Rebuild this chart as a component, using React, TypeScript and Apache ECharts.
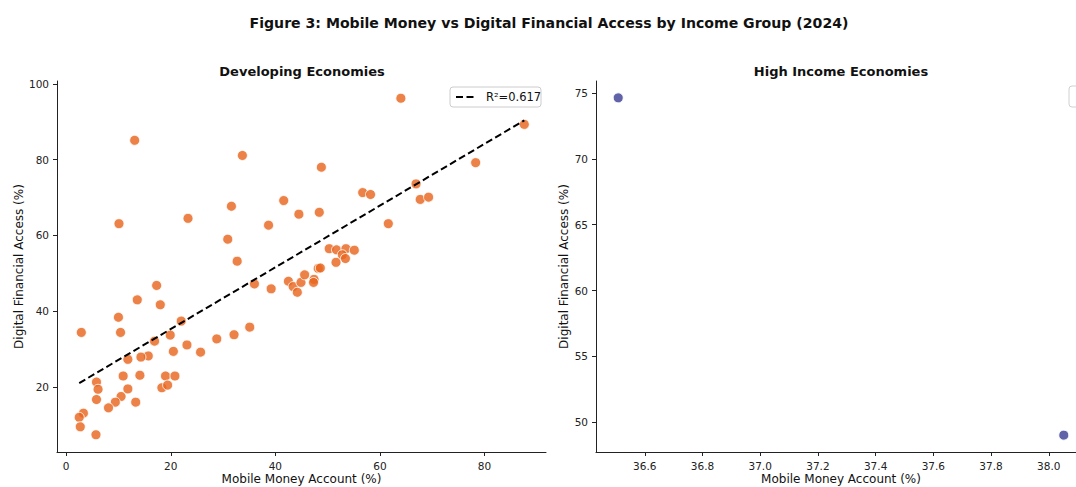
import React, { useEffect, useRef } from "react";
import * as echarts from "echarts";

// ---- Data ----
const devMobile = [
  13.1, 33.7, 10.1, 23.3, 31.6, 41.6, 38.7, 44.5, 30.9, 32.7,
  17.3, 13.6, 18.0, 10.0, 2.9, 10.4, 22.0, 19.9, 16.9, 28.8,
  32.1, 35.1, 36.0, 39.2, 23.1, 20.5, 25.7, 15.7, 14.3, 11.8,
  10.9, 14.1, 19.0, 20.8, 5.8, 6.1, 18.3, 19.4, 11.8, 5.8,
  10.5, 9.4, 13.3, 8.1, 3.3, 2.5, 2.7, 5.7, 42.5, 43.4,
  44.2, 44.9, 45.6, 64.0, 87.6, 78.3, 48.8, 56.7, 58.2, 66.9,
  67.7, 69.3, 48.4, 61.6, 50.3, 51.7, 53.5, 55.1, 52.8, 53.4,
  51.6, 48.2, 48.6, 47.4, 47.3,
];
const devDigital = [
  85.1, 81.1, 63.1, 64.5, 67.7, 69.2, 62.7, 65.6, 59.0, 53.2,
  46.8, 43.0, 41.7, 38.4, 34.4, 34.4, 37.4, 33.7, 32.1, 32.7,
  33.8, 35.8, 47.2, 45.9, 31.1, 29.4, 29.2, 28.2, 27.9, 27.3,
  22.9, 23.1, 22.9, 22.9, 21.3, 19.4, 19.8, 20.5, 19.5, 16.7,
  17.5, 16.0, 16.0, 14.5, 13.1, 12.0, 9.5, 7.4, 47.9, 46.5,
  45.0, 47.6, 49.6, 96.2, 89.3, 79.2, 78.0, 71.3, 70.8, 73.6,
  69.5, 70.1, 66.1, 63.1, 56.5, 56.2, 56.5, 56.1, 54.9, 53.9,
  52.9, 51.3, 51.4, 48.4, 47.6,
];
const hiMobile = [36.508, 38.052];
const hiDigital = [74.62, 49.03];

// regression fit
const trendX = [2.5, 87.6];
const trendSlope = 0.8145;
const trendIntercept = 19.0;
const trendLabel = "R²=0.617";

const leftXTicks = [0, 20, 40, 60, 80];
const leftYTicks = [20, 40, 60, 80, 100];
const rightXTicks = [36.6, 36.8, 37.0, 37.2, 37.4, 37.6, 37.8, 38.0];
const rightYTicks = [50, 55, 60, 65, 70, 75];

const FONT = "DejaVu Sans";
const AX = "#222";

function axisCommon(ticks: number[], fmt?: (v: number) => string) {
  return {
    nameMoveOverlap: false,
    axisLine: { show: true, onZero: false, lineStyle: { color: AX, width: 1 } },
    axisTick: { show: true, customValues: ticks, length: 4, lineStyle: { color: AX, width: 1 } },
    axisLabel: {
      show: true,
      customValues: ticks,
      color: "#222",
      fontFamily: FONT,
      fontSize: 10.5,
      margin: 8,
      formatter: fmt ? (v: number) => fmt(v) : undefined,
    },
    splitLine: { show: false },
    nameTextStyle: { fontFamily: FONT, fontSize: 12, color: "#111" },
  };
}

export default function App() {
  const ref = useRef<HTMLDivElement>(null);
  useEffect(() => {
    if (!ref.current) return;
    const chart = echarts.init(ref.current, null, { renderer: "svg" });
    const devData = devMobile.map((x, i) => [x, devDigital[i]]);
    const hiData = hiMobile.map((x, i) => [x, hiDigital[i]]);
    const trendData = trendX.map((x) => [x, trendSlope * x + trendIntercept]);

    chart.setOption({
      animation: false,
      backgroundColor: "#fff",
      title: [
        {
          text: "Figure 3: Mobile Money vs Digital Financial Access by Income Group (2024)",
          left: 544,
          textAlign: "center",
          top: 11,
          textStyle: { fontFamily: FONT, fontSize: 14.1, fontWeight: "bold", color: "#111" },
        },
        {
          text: "Developing Economies",
          left: 297,
          textAlign: "center",
          top: 60,
          textStyle: { fontFamily: FONT, fontSize: 13, fontWeight: "bold", color: "#111" },
        },
        {
          text: "High Income Economies",
          left: 836,
          textAlign: "center",
          top: 60,
          textStyle: { fontFamily: FONT, fontSize: 13, fontWeight: "bold", color: "#111" },
        },
      ],
      grid: [
        { left: 57, right: 1076 - 546, top: 81, bottom: 487 - 452, outerBoundsMode: "none", containLabel: false },
        { left: 596, right: -10, top: 81, bottom: 487 - 452, outerBoundsMode: "none", containLabel: false },
      ],
      xAxis: [
        {
          gridIndex: 0,
          type: "value",
          min: -1.75,
          max: 91.75,
          name: "Mobile Money Account (%)",
          nameLocation: "middle",
          nameGap: 21,
          ...axisCommon(leftXTicks),
        },
        {
          gridIndex: 1,
          type: "value",
          min: 36.431,
          max: 38.129,
          name: "Mobile Money Account (%)",
          nameLocation: "middle",
          nameGap: 21,
          ...axisCommon(rightXTicks, (v) => v.toFixed(1)),
        },
      ],
      yAxis: [
        {
          gridIndex: 0,
          type: "value",
          min: 2.85,
          max: 100.75,
          name: "Digital Financial Access (%)",
          nameLocation: "middle",
          nameGap: 32,
          ...axisCommon(leftYTicks),
        },
        {
          gridIndex: 1,
          type: "value",
          min: 47.75,
          max: 75.9,
          name: "Digital Financial Access (%)",
          nameLocation: "middle",
          nameGap: 26,
          ...axisCommon(rightYTicks),
        },
      ],
      graphic: [
        {
          type: "rect",
          shape: { x: 450, y: 87, width: 91, height: 20, r: 3 },
          style: { fill: "#fff", stroke: "#cccccc", lineWidth: 1 },
          z: 10,
        },
        {
          type: "line",
          shape: { x1: 456, y1: 97, x2: 477, y2: 97 },
          style: { stroke: "#000", lineWidth: 2, lineDash: [7, 3.5] },
          z: 11,
        },
        {
          type: "text",
          x: 486,
          y: 97,
          style: {
            text: trendLabel,
            fontFamily: FONT,
            fontSize: 11.5,
            fill: "#111",
            verticalAlign: "middle",
            align: "left",
          },
          z: 11,
        },
        {
          type: "rect",
          shape: { x: 1069, y: 86, width: 60, height: 21, r: 3 },
          style: { fill: "#fff", stroke: "#d0d0d0", lineWidth: 1 },
          z: 10,
        },
      ],
      series: [
        {
          type: "scatter",
          xAxisIndex: 0,
          yAxisIndex: 0,
          data: devData,
          symbolSize: 10,
          itemStyle: { color: "#E8671F", opacity: 0.82, borderColor: "#fff", borderWidth: 1 },
          z: 2,
        },
        {
          name: trendLabel,
          type: "line",
          xAxisIndex: 0,
          yAxisIndex: 0,
          data: trendData,
          showSymbol: false,
          symbol: "none",
          lineStyle: { color: "#000", width: 2, type: [7, 3.5] },
          z: 3,
        },
        {
          type: "scatter",
          xAxisIndex: 1,
          yAxisIndex: 1,
          data: hiData,
          symbolSize: 10,
          itemStyle: { color: "#4F529E", opacity: 0.9, borderColor: "#fff", borderWidth: 1 },
        },
      ],
    });
    return () => chart.dispose();
  }, []);
  return (
    <div
      ref={ref}
      style={{ position: "fixed", left: 0, top: 0, width: 1076, height: 487, overflow: "hidden" }}
    />
  );
}
